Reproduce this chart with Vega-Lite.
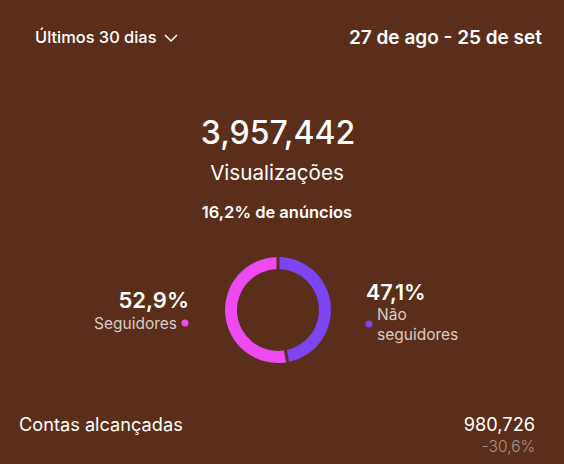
{
  "$schema": "https://vega.github.io/schema/vega-lite/v6.json",
  "width": 564,
  "height": 464,
  "autosize": {"type": "fit", "contains": "padding"},
  "padding": 0,
  "background": "#5B2E1B",
  "config": {"view": {"stroke": null}, "font": "Inter"},
  "datasets": {
    "split": [
      {"segment": "Não seguidores", "share": 47.1},
      {"segment": "Seguidores", "share": 52.9}
    ]
  },
  "layer": [
    {
      "data": {"values": [{"label": "Últimos 30 dias"}]},
      "mark": {"type": "text", "x": 35, "y": 38, "align": "left", "baseline": "middle", "fontSize": 16.4, "fontWeight": 500, "color": "#FFFFFF"},
      "encoding": {"text": {"field": "label"}}
    },
    {
      "data": {"values": [{"label": "chevron"}]},
      "mark": {"type": "point", "x": 171, "y": 38, "shape": "M-1,-0.5L0,0.5L1,-0.5", "filled": false, "stroke": "#FFFFFF", "strokeWidth": 1.5, "size": 144, "opacity": 1},
      "encoding": {}
    },
    {
      "data": {"values": [{"label": "27 de ago - 25 de set"}]},
      "mark": {"type": "text", "x": 542, "y": 38, "align": "right", "baseline": "middle", "fontSize": 19, "fontWeight": 600, "color": "#FFFFFF"},
      "encoding": {"text": {"field": "label"}}
    },
    {
      "data": {"values": [{"label": "3,957,442"}]},
      "mark": {"type": "text", "x": 278, "y": 134, "align": "center", "baseline": "middle", "fontSize": 32, "fontWeight": 500, "color": "#FFFFFF"},
      "encoding": {"text": {"field": "label"}}
    },
    {
      "data": {"values": [{"label": "Visualizações"}]},
      "mark": {"type": "text", "x": 277, "y": 174, "align": "center", "baseline": "middle", "fontSize": 20.6, "fontWeight": 400, "color": "#FFFFFF"},
      "encoding": {"text": {"field": "label"}}
    },
    {
      "data": {"values": [{"label": "16,2% de anúncios"}]},
      "mark": {"type": "text", "x": 277, "y": 213, "align": "center", "baseline": "middle", "fontSize": 16.5, "fontWeight": 600, "color": "#FFFFFF"},
      "encoding": {"text": {"field": "label"}}
    },
    {
      "data": {"name": "split"},
      "mark": {"type": "arc", "x": 278, "y": 310, "outerRadius": 53, "innerRadius": 41, "padAngle": 0.045},
      "encoding": {
        "theta": {"field": "share", "type": "quantitative", "stack": true},
        "order": {"field": "share", "sort": "ascending"},
        "color": {"field": "segment", "type": "nominal", "legend": null, "scale": {"domain": ["Não seguidores", "Seguidores"], "range": ["#7D44F3", "#EE4AF2"]}}
      }
    },
    {
      "data": {"values": [{"label": "52,9%"}]},
      "mark": {"type": "text", "x": 189, "y": 301, "align": "right", "baseline": "middle", "fontSize": 22, "fontWeight": 600, "color": "#FFFFFF"},
      "encoding": {"text": {"field": "label"}}
    },
    {
      "data": {"values": [{"label": "Seguidores"}]},
      "mark": {"type": "text", "x": 177, "y": 324, "align": "right", "baseline": "middle", "fontSize": 15.5, "fontWeight": 400, "color": "#D9CCC6"},
      "encoding": {"text": {"field": "label"}}
    },
    {
      "data": {"values": [{"segment": "Seguidores"}]},
      "mark": {"type": "point", "x": 185, "y": 323, "filled": true, "size": 50, "opacity": 1},
      "encoding": {"color": {"field": "segment", "type": "nominal", "legend": null, "scale": {"domain": ["Não seguidores", "Seguidores"], "range": ["#7D44F3", "#EE4AF2"]}}}
    },
    {
      "data": {"values": [{"label": "47,1%"}]},
      "mark": {"type": "text", "x": 366, "y": 294, "align": "left", "baseline": "middle", "fontSize": 21.5, "fontWeight": 600, "color": "#FFFFFF"},
      "encoding": {"text": {"field": "label"}}
    },
    {
      "data": {"values": [{"segment": "Não seguidores"}]},
      "mark": {"type": "point", "x": 369, "y": 324, "filled": true, "size": 50, "opacity": 1},
      "encoding": {"color": {"field": "segment", "type": "nominal", "legend": null, "scale": {"domain": ["Não seguidores", "Seguidores"], "range": ["#7D44F3", "#EE4AF2"]}}}
    },
    {
      "data": {"values": [{"label": "Não\nseguidores"}]},
      "mark": {"type": "text", "x": 377, "y": 315, "align": "left", "baseline": "middle", "fontSize": 15.5, "fontWeight": 400, "color": "#D9CCC6", "lineHeight": 20, "lineBreak": "\n"},
      "encoding": {"text": {"field": "label"}}
    },
    {
      "data": {"values": [{"label": "Contas alcançadas"}]},
      "mark": {"type": "text", "x": 19, "y": 426, "align": "left", "baseline": "middle", "fontSize": 18.2, "fontWeight": 400, "color": "#FFFFFF"},
      "encoding": {"text": {"field": "label"}}
    },
    {
      "data": {"values": [{"label": "980,726"}]},
      "mark": {"type": "text", "x": 535, "y": 426, "align": "right", "baseline": "middle", "fontSize": 18.2, "fontWeight": 400, "color": "#FFFFFF"},
      "encoding": {"text": {"field": "label"}}
    },
    {
      "data": {"values": [{"label": "-30,6%"}]},
      "mark": {"type": "text", "x": 535, "y": 447, "align": "right", "baseline": "middle", "fontSize": 15.5, "fontWeight": 300, "color": "#A8958C"},
      "encoding": {"text": {"field": "label"}}
    }
  ]
}
